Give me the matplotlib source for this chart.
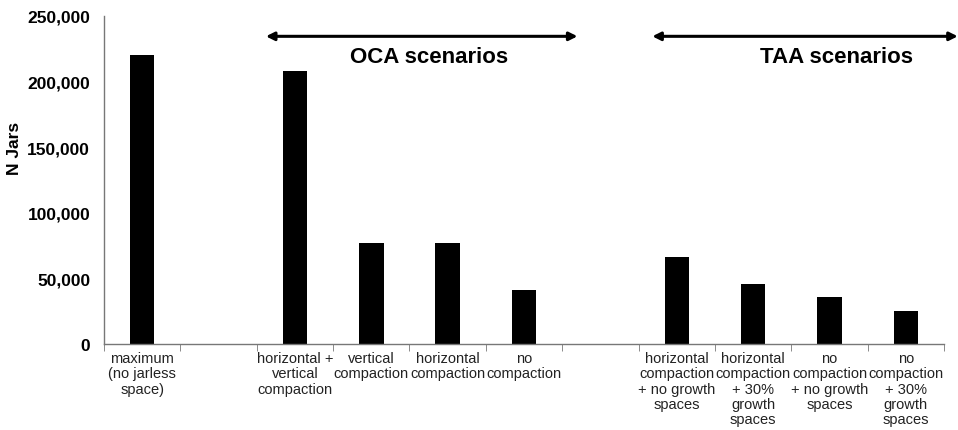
import matplotlib
matplotlib.use("Agg")
import matplotlib.pyplot as plt
import numpy as np
from matplotlib.ticker import FuncFormatter, FixedLocator

categories = [
    "maximum\n(no jarless\nspace)",
    "",
    "horizontal +\nvertical\ncompaction",
    "vertical\ncompaction",
    "horizontal\ncompaction",
    "no\ncompaction",
    "",
    "horizontal\ncompaction\n+ no growth\nspaces",
    "horizontal\ncompaction\n+ 30%\ngrowth\nspaces",
    "no\ncompaction\n+ no growth\nspaces",
    "no\ncompaction\n+ 30%\ngrowth\nspaces",
]
values = [220000, 0, 208000, 77000, 77000, 41500, 0, 66000, 46000, 35500, 25000]
group_labels = ["OCA scenarios", "TAA scenarios"]

plt.rcParams['font.family'] = ['Liberation Sans', 'DejaVu Sans']

fig = plt.figure(figsize=(9.58, 4.31), dpi=100)
ax = fig.add_axes([0.1086, 0.1995, 0.8768, 0.7611])

x = np.arange(len(categories))
ax.bar(x, values, width=0.32, color="black")

ax.set_xlim(-0.5, len(categories) - 0.5)
ax.set_ylim(0, 250000)
ax.set_yticks(np.arange(0, 250001, 50000))
ax.yaxis.set_major_formatter(FuncFormatter(lambda v, p: f"{int(v):,}"))
for lab in ax.get_yticklabels():
    lab.set_fontweight("bold")
ax.tick_params(axis="y", length=0, labelsize=12.5, pad=10)

ax.set_xticks(x)
ax.set_xticklabels(categories, fontsize=10.5, linespacing=1.12, va="top",
                   color="#222222")
ax.tick_params(axis="x", which="major", length=0, pad=5)
ax.xaxis.set_minor_locator(FixedLocator(np.arange(-0.5, len(categories), 1.0)))
ax.tick_params(axis="x", which="minor", length=5, color="#777777", direction="out")

for s in ["top", "right"]:
    ax.spines[s].set_visible(False)
for s in ["left", "bottom"]:
    ax.spines[s].set_color("#777777")
    ax.spines[s].set_linewidth(1.0)

ax.set_ylabel("N Jars", fontsize=12.5, fontweight="bold")
ax.yaxis.set_label_coords(-0.0976, 0.598)

# group arrows
arrow_y = 234500
ax.annotate("", xy=(1.62, arrow_y), xytext=(5.70, arrow_y),
            arrowprops=dict(arrowstyle="<|-|>", color="black", lw=2.2,
                            mutation_scale=12, shrinkA=0, shrinkB=0),
            annotation_clip=False)
ax.annotate("", xy=(6.68, arrow_y), xytext=(10.68, arrow_y),
            arrowprops=dict(arrowstyle="<|-|>", color="black", lw=2.2,
                            mutation_scale=12, shrinkA=0, shrinkB=0),
            annotation_clip=False)
ax.text(3.75, 219500, group_labels[0], ha="center", va="center",
        fontsize=16, fontweight="bold")
ax.text(9.09, 219500, group_labels[1], ha="center", va="center",
        fontsize=16, fontweight="bold")

fig.savefig("out.png", dpi=100)
